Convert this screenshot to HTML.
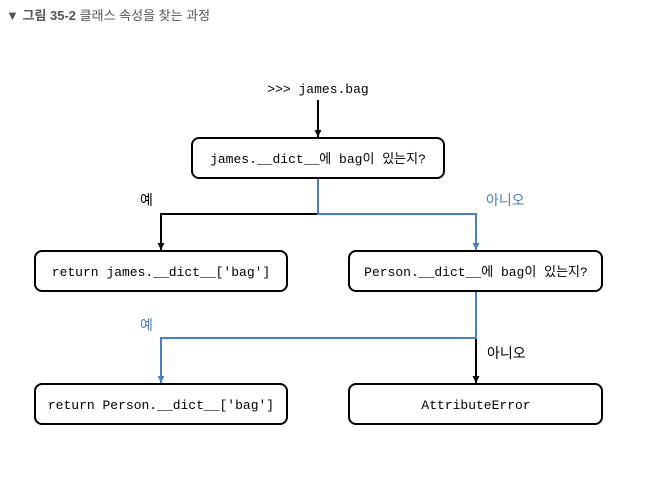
<!DOCTYPE html>
<html><head><meta charset="utf-8"><style>
body{margin:0;background:#fff;width:663px;height:475px;overflow:hidden}
svg text{font-family:"Liberation Mono","Noto Sans CJK KR",monospace;font-size:13px}
.k{font-family:"Liberation Sans","Noto Sans CJK KR",sans-serif;font-size:14px}
</style></head><body>
<svg width="663" height="475" xmlns="http://www.w3.org/2000/svg">
<defs>
<marker id="ab" markerWidth="8" markerHeight="8" refX="7" refY="3.5" orient="auto" markerUnits="userSpaceOnUse"><path d="M0,0 L7,3.5 L0,7 Z" fill="#000"/></marker>
<marker id="au" markerWidth="8" markerHeight="8" refX="7" refY="3.5" orient="auto" markerUnits="userSpaceOnUse"><path d="M0,0 L7,3.5 L0,7 Z" fill="#4a7fc1"/></marker>
</defs>
<text x="6" y="20" class="k" style="font-size:13px" fill="#555">▼ <tspan font-weight="bold">그림 35-2</tspan> 클래스 속성을 찾는 과정</text>
<text x="318" y="93" text-anchor="middle">&gt;&gt;&gt; james.bag</text>
<line x1="318" y1="100" x2="318" y2="137" stroke="#000" stroke-width="2" marker-end="url(#ab)"/>
<g fill="#fff" stroke="#000" stroke-width="2">
<rect x="192" y="138" width="252" height="40" rx="7"/>
<rect x="35" y="251" width="252" height="40" rx="7"/>
<rect x="349" y="251" width="253" height="40" rx="7"/>
<rect x="35" y="384" width="252" height="40" rx="7"/>
<rect x="349" y="384" width="253" height="40" rx="7"/>
</g>
<path d="M318,214 H161 V250" fill="none" stroke="#000" stroke-width="2" marker-end="url(#ab)"/>
<path d="M318,179 V214 H476 V250" fill="none" stroke="#4a7fc1" stroke-width="2" marker-end="url(#au)"/>
<path d="M476,338 V383" fill="none" stroke="#000" stroke-width="2" marker-end="url(#ab)"/>
<path d="M476,292 V338 H161 V383" fill="none" stroke="#4a7fc1" stroke-width="2" marker-end="url(#au)"/>
<text x="318" y="163" text-anchor="middle">james.__dict__에 bag이 있는지?</text>
<text x="161" y="276" text-anchor="middle">return james.__dict__['bag']</text>
<text x="476" y="276" text-anchor="middle">Person.__dict__에 bag이 있는지?</text>
<text x="161" y="409" text-anchor="middle">return Person.__dict__['bag']</text>
<text x="476" y="409" text-anchor="middle">AttributeError</text>
<text x="140" y="205" class="k">예</text>
<text x="486" y="205" class="k" fill="#4a7fc1">아니오</text>
<text x="140" y="330" class="k" fill="#4a7fc1">예</text>
<text x="487" y="358" class="k">아니오</text>
</svg>
</body></html>
